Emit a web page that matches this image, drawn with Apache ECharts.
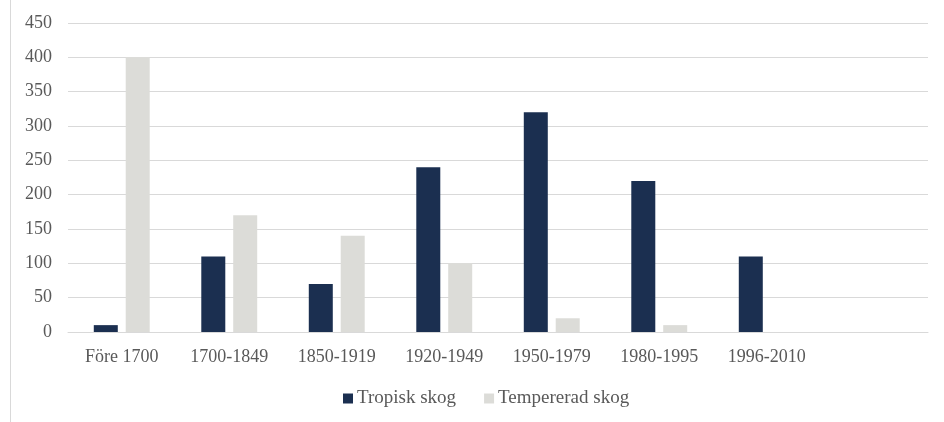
<!DOCTYPE html>
<html>
<head>
<meta charset="utf-8">
<script src="https://cdn.jsdelivr.net/npm/echarts@6/dist/echarts.min.js"></script>
<style>
  html, body { margin: 0; padding: 0; background: #fff; }
  #main { width: 944px; height: 422px; }
</style>
</head>
<body>
<div id="main"></div>
<script>
var categories = ['Före 1700', '1700-1849', '1850-1919', '1920-1949', '1950-1979', '1980-1995', '1996-2010', ''];
var tropisk = [10, 110, 70, 240, 320, 220, 110, null];
var tempererad = [400, 170, 140, 100, 20, 10, 0, null];
var yTicks = { min: 0, max: 450, interval: 50 };

var chart = echarts.init(document.getElementById('main'), null, { renderer: 'canvas' });
var font = '"Liberation Serif", "DejaVu Serif", serif';

var option = {
  animation: false,
  textStyle: { fontFamily: font },
  color: ['#1b2f50', '#dcdcd8'],
  grid: {
    left: 68,
    right: 16,
    top: 23,
    bottom: 90,
    containLabel: false
  },
  graphic: [{
    type: 'line',
    shape: { x1: 10.5, y1: 0, x2: 10.5, y2: 422 },
    style: { stroke: '#d9d9d9', lineWidth: 1 }
  }],
  legend: {
    bottom: 9,
    left: 338,
    itemWidth: 10,
    itemHeight: 10,
    itemGap: 28,
    icon: 'rect',
    textStyle: { fontFamily: font, fontSize: 19, color: '#595959', padding: [0, 0, 0, -1] },
    data: ['Tropisk skog', 'Tempererad skog']
  },
  xAxis: {
    type: 'category',
    data: categories,
    axisLine: { lineStyle: { color: '#d9d9d9' } },
    axisTick: { show: false },
    axisLabel: { fontFamily: font, fontSize: 18, color: '#595959', margin: 16, interval: 0 }
  },
  yAxis: {
    type: 'value',
    min: yTicks.min,
    max: yTicks.max,
    interval: yTicks.interval,
    axisLine: { show: false },
    axisTick: { show: false },
    splitLine: { lineStyle: { color: '#d9d9d9' } },
    axisLabel: { fontFamily: font, fontSize: 18, color: '#595959', margin: 16 }
  },
  series: [{
    name: 'Tropisk skog',
    type: 'bar',
    barWidth: 24,
    barGap: '33%',
    data: tropisk
  }, {
    name: 'Tempererad skog',
    type: 'bar',
    barWidth: 24,
    data: tempererad
  }]
};

chart.setOption(option);
</script>
</body>
</html>
